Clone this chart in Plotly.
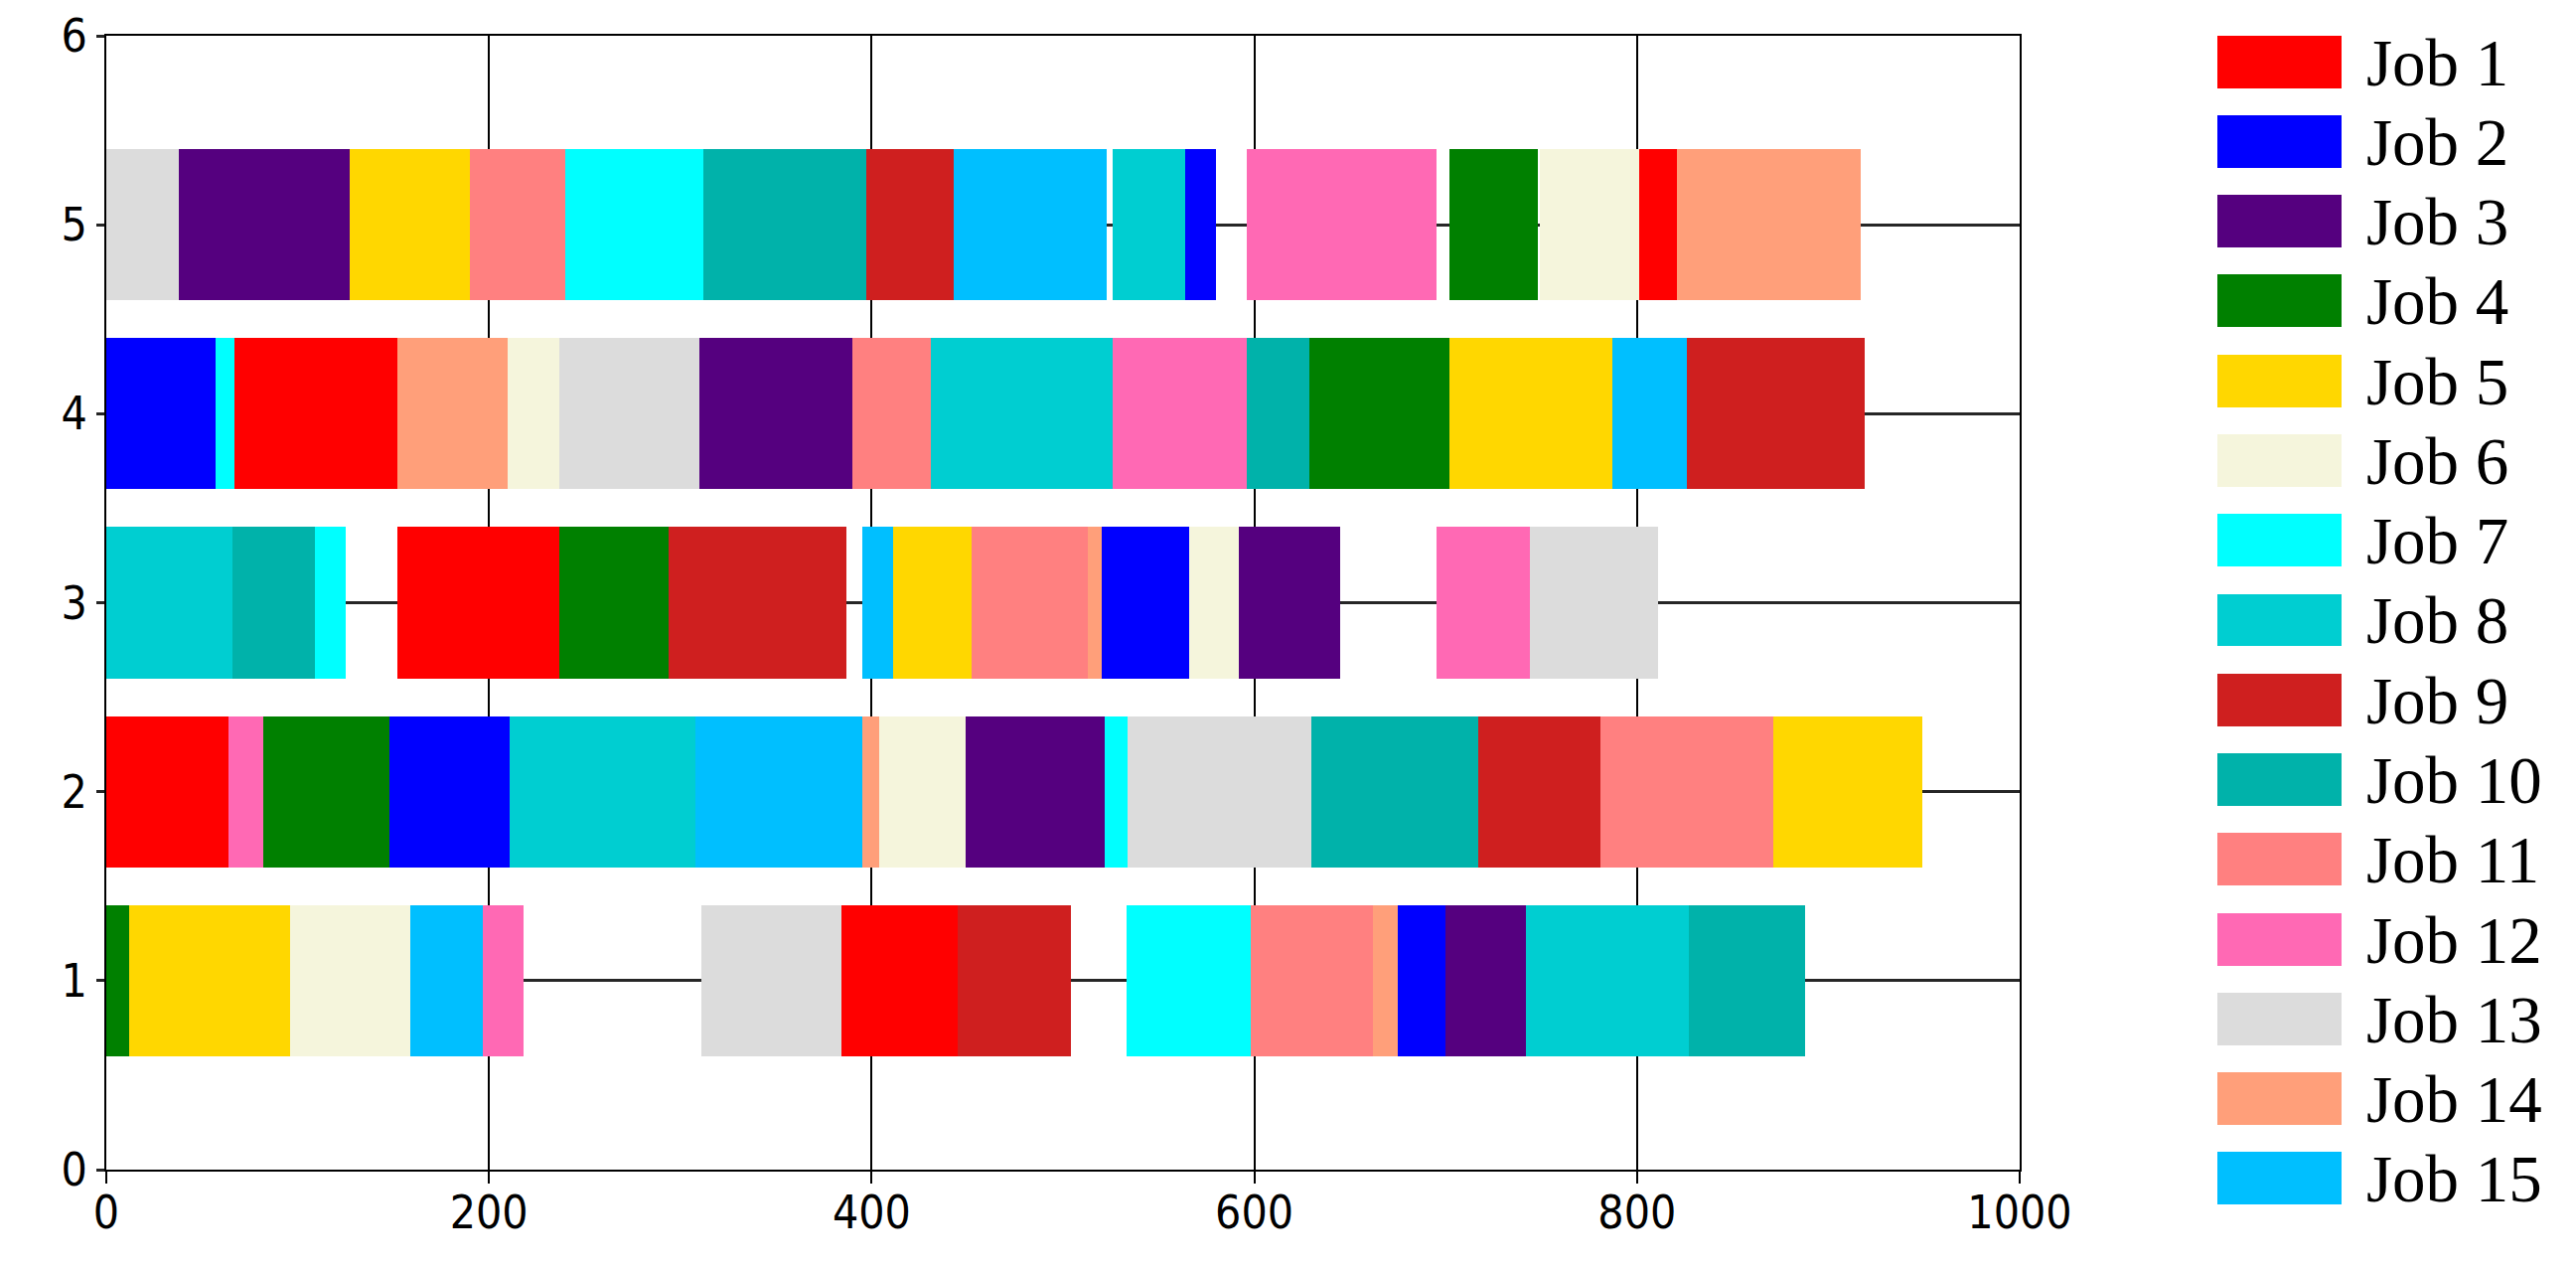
import plotly.graph_objects as go

# ---------------- data ----------------
job_names = [f"Job {i}" for i in range(1, 16)]
job_colors = ["#FF0000", "#0000FF", "#55007F", "#008000", "#FFD700",
              "#F5F5DC", "#00FFFF", "#00CED1", "#CF1F1F", "#00B2AA",
              "#FF8080", "#FF69B4", "#DCDCDC", "#FF9F7A", "#00BFFF"]

# Machine 1
m1_jobs  = [4, 5, 6, 15, 12, 13, 1, 9, 7, 11, 14, 2, 3, 8, 10]
m1_start = [0, 12, 96, 159, 197, 311, 384, 445, 533, 598, 662, 675, 700, 742, 827]
m1_end   = [12, 96, 159, 197, 218, 384, 445, 504, 598, 662, 675, 700, 742, 827, 888]
# Machine 2
m2_jobs  = [1, 12, 4, 2, 8, 15, 14, 6, 3, 7, 13, 10, 9, 11, 5]
m2_start = [0, 64, 82, 148, 211, 308, 395, 404, 449, 522, 534, 630, 717, 781, 871]
m2_end   = [64, 82, 148, 211, 308, 395, 404, 449, 522, 534, 630, 717, 781, 871, 949]
# Machine 3
m3_jobs  = [8, 10, 7, 1, 4, 9, 15, 5, 11, 14, 2, 6, 3, 12, 13]
m3_start = [0, 66, 109, 152, 237, 294, 395, 411, 452, 513, 520, 566, 592, 695, 744]
m3_end   = [66, 109, 125, 237, 294, 387, 411, 452, 513, 520, 566, 592, 645, 744, 811]
# Machine 4
m4_jobs  = [2, 7, 1, 14, 6, 13, 3, 11, 8, 12, 10, 4, 5, 15, 9]
m4_start = [0, 57, 67, 152, 210, 237, 310, 390, 431, 526, 596, 629, 702, 787, 826]
m4_end   = [57, 67, 152, 210, 237, 310, 390, 431, 526, 596, 629, 702, 787, 826, 919]
# Machine 5
m5_jobs  = [13, 3, 5, 11, 7, 10, 9, 15, 8, 2, 12, 4, 6, 1, 14]
m5_start = [0, 38, 127, 190, 240, 312, 397, 443, 526, 564, 596, 702, 749, 801, 821]
m5_end   = [38, 127, 190, 240, 312, 397, 443, 523, 564, 580, 695, 748, 801, 821, 917]

machines = [1, 2, 3, 4, 5]
schedule = {1: (m1_jobs, m1_start, m1_end), 2: (m2_jobs, m2_start, m2_end),
            3: (m3_jobs, m3_start, m3_end), 4: (m4_jobs, m4_start, m4_end),
            5: (m5_jobs, m5_start, m5_end)}

x_ticks = [0, 200, 400, 600, 800, 1000]
y_ticks = [0, 1, 2, 3, 4, 5, 6]

# ---------------- layout geometry (page pixels) ----------------
OFF = 8                      # default body margin of the html page
W, H = 2593 - 2 * OFF, 1278 - 2 * OFF
plot_left, plot_right = 107, 2560
plot_top, plot_bottom = 22, 1226
main_right_px = 2033
main_top_px, main_bottom_px = 36, 1177
sw_left_px, sw_right_px = 2232, 2357

pw = plot_right - plot_left
ph = plot_bottom - plot_top

def fx(px):
    return (px - plot_left) / pw

def fy(py):
    return (plot_bottom - py) / ph

fig = go.Figure()

for j in range(1, 16):
    ys, bases, lens = [], [], []
    for m in machines:
        jobs, st, en = schedule[m]
        for jj, s, e in zip(jobs, st, en):
            if jj == j:
                ys.append(m)
                bases.append(s)
                lens.append(e - s)
    fig.add_trace(go.Bar(
        y=ys, x=lens, base=bases, orientation="h", width=0.8,
        marker=dict(color=job_colors[j - 1], line=dict(width=0)),
        name=job_names[j - 1], showlegend=False,
        xaxis="x", yaxis="y"))

# legend drawn as a small bar panel
fig.add_trace(go.Bar(
    y=job_names, x=[1] * len(job_names), orientation="h", width=0.66,
    marker=dict(color=job_colors, line=dict(width=0)),
    showlegend=False, xaxis="x2", yaxis="y2", hoverinfo="skip"))

tick_font = dict(family="Liberation Sans Narrow, Arial Narrow, DejaVu Sans Condensed, sans-serif",
                 size=46, color="black")

fig.update_layout(
    width=W, height=H,
    margin=dict(l=plot_left - OFF, r=W - (plot_right - OFF), t=plot_top - OFF,
                b=H - (plot_bottom - OFF), pad=0, autoexpand=False),
    paper_bgcolor="white", plot_bgcolor="rgba(0,0,0,0)",
    barmode="overlay", bargap=0,
    showlegend=False,
    xaxis=dict(domain=[0, fx(main_right_px)], range=[0, 1000], automargin=False,
               tickvals=x_ticks, ticktext=[str(v) for v in x_ticks],
               showgrid=True, gridcolor="black", gridwidth=2,
               zeroline=False, showline=True, linecolor="black", linewidth=2,
               mirror=True, ticks="outside", ticklen=12, tickwidth=2,
               tickcolor="black", tickfont=tick_font, anchor="y",
               ticklabelstandoff=-10),
    yaxis=dict(domain=[fy(main_bottom_px), fy(main_top_px)], range=[0, 6], automargin=False,
               tickvals=y_ticks, ticktext=[str(v) for v in y_ticks],
               showgrid=True, gridcolor="#262626", gridwidth=3,
               zeroline=False, showline=True, linecolor="black", linewidth=2,
               mirror=True, ticks="outside", ticklen=8, tickwidth=3,
               tickcolor="#262626", tickfont=tick_font, anchor="x"),
    xaxis2=dict(domain=[fx(sw_left_px), fx(sw_right_px)], range=[0, 1], automargin=False,
                visible=False, anchor="y2"),
    yaxis2=dict(domain=[0, 1], range=[14.5, -0.5], type="category", automargin=False,
                tickmode="array", tickvals=job_names, ticktext=job_names,
                side="right", anchor="x2", showgrid=False, zeroline=False,
                showline=False, ticks="", ticklabelstandoff=24,
                tickfont=dict(family="Liberation Serif, Times New Roman, serif",
                              size=67, color="black")),
)

fig.write_html("out.html")
